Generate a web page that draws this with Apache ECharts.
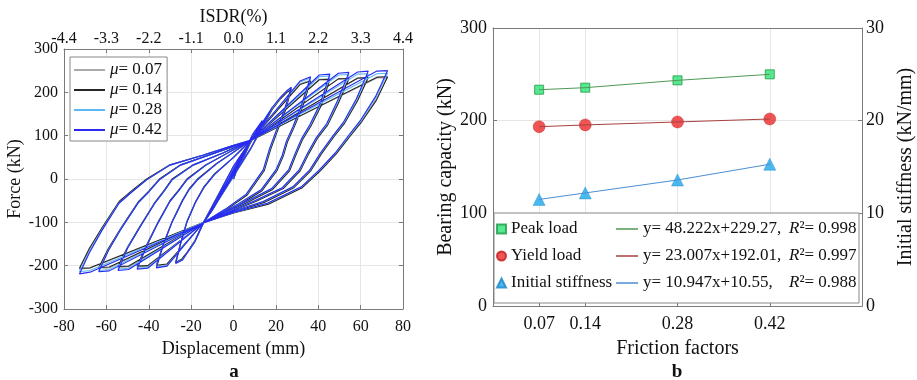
<!DOCTYPE html>
<html><head><meta charset="utf-8">
<script src="https://cdn.jsdelivr.net/npm/echarts@6/dist/echarts.min.js"></script>
<style>html,body{margin:0;padding:0;background:#fff}#c{width:917px;height:380px}</style>
</head><body><div id="c"></div>
<script>
// ---------- Panel a: hysteresis curves [displacement mm, force kN] ----------
const hys007 = [
[0,0],[4,53],[9.1,96],[5,53],[0,9],[-5,-25],[-9.1,-61],[-5,-21],[0,17],[5,61],
[9,101],[13.6,132],[9,93],[3,39],[-5,-31],[-10,-71],[-13.6,-96],[-9,-59],[-3,-5],[4,56],
[8.2,89],[13,121],[18.2,162],[14,123],[8,69],[0,7],[-8,-55],[-14.2,-101],[-18.2,-143],[-14,-99],[-8,-44],[0,29],[8.2,89],
[18.2,162],[22,186],[25,200],[27.3,209],[24.3,159],[20.3,109],[17.3,69],[14.3,20],[6.3,-36],[-3.8,-70],[-14.2,-101],[-18.2,-143],[-22,-171],[-24.3,-186],[-27.3,-193],[-25,-149],[-22,-99],[-18,-54],[-14,-19],[-9,11],[0,50],[8.2,89],
[31.4,220],[36.4,228],[32.3,167],[28.3,119],[25.3,87],[23.3,54],[20.3,20],[13.3,-26],[2.3,-59],[-14.2,-101],[-31.4,-198],[-36.4,-201],[-33,-149],[-29,-99],[-24,-49],[-21,-24],[-17,-1],[-8,35],[8.2,89],
[40.5,230],[45.5,231],[41.3,172],[36.3,123],[32.3,91],[29.3,57],[26.3,20],[18.3,-23],[6.3,-53],[-14.2,-101],[-40.5,-202],[-45.5,-203],[-41,-153],[-36,-104],[-30,-51],[-26,-27],[-22,-1],[-13,32],[-2,62],[8.2,89],
[49.5,231],[54.5,232],[49.3,177],[44.3,126],[39.3,94],[35.3,59],[31.3,20],[23.3,-21],[10.3,-51],[-14.2,-101],[-49.5,-203],[-54.5,-204],[-50,-158],[-44,-109],[-37,-54],[-33,-29],[-29,-1],[-19,32],[-5,60],[8.2,89],
[58.6,232],[63.6,233],[58.3,182],[52.3,130],[47.3,99],[41.3,59],[36.3,20],[28.3,-19],[14.3,-53],[0.3,-76],[-14.2,-101],[-58.6,-205],[-63.6,-206],[-59,-162],[-53,-113],[-45,-54],[-40,-29],[-35,-1],[-25,32],[-10,58],[8.2,89],
[67.7,233],[72.7,234],[67.3,184],[60.3,134],[55.3,103],[48.3,59],[40.8,20],[32.3,-19],[16.3,-57],[0.3,-77],[-14.2,-101],[-67.7,-206],[-72.7,-208],[-68,-163],[-62,-114],[-54,-54],[-48,-29],[-41,-1],[-30,32],[-14.5,55],[0,77],[8.2,89]
];
const hys014 = [
[0,0],[4,52],[9.1,95],[5,52],[0,8],[-5,-26],[-9.1,-60],[-5,-20],[0,16],[5,60],
[9,100],[13.6,130],[9,92],[3,38],[-5,-32],[-10,-72],[-13.6,-95],[-9,-58],[-3,-6],[4,55],
[8,88],[13,120],[18.2,160],[14,122],[8,68],[0,6],[-8,-56],[-14,-100],[-18.2,-142],[-14,-98],[-8,-44],[0,28],[8,88],
[18.2,160],[22,184],[25,199],[27.3,207],[24.5,158],[20.5,108],[17.5,68],[14.5,19],[6.5,-37],[-3.5,-71],[-14,-100],[-18.2,-142],[-22,-170],[-24.5,-185],[-27.3,-192],[-25,-148],[-22,-98],[-18,-53],[-14,-18],[-9,12],[0,50],[8,88],
[31.4,218],[36.4,226],[32.5,165],[28.5,118],[25.5,86],[23.5,53],[20.5,19],[13.5,-27],[2.5,-60],[-14,-100],[-31.4,-196],[-36.4,-199],[-33,-148],[-29,-98],[-24,-48],[-21,-23],[-17,0],[-8,36],[8,88],
[40.5,229],[45.5,230],[41.5,170],[36.5,122],[32.5,90],[29.5,56],[26.5,19],[18.5,-24],[6.5,-54],[-14,-100],[-40.5,-200],[-45.5,-201],[-41,-152],[-36,-103],[-30,-50],[-26,-26],[-22,0],[-13,33],[-2,62],[8,88],
[49.5,231],[54.5,232],[49.5,175],[44.5,125],[39.5,93],[35.5,58],[31.5,19],[23.5,-22],[10.5,-52],[-14,-100],[-49.5,-201],[-54.5,-202],[-50,-157],[-44,-108],[-37,-53],[-33,-28],[-29,0],[-19,33],[-5,60],[8,88],
[58.6,233],[63.6,234],[58.5,180],[52.5,129],[47.5,98],[41.5,58],[36.5,19],[28.5,-20],[14.5,-54],[0.5,-75],[-14,-100],[-58.6,-203],[-63.6,-204],[-59,-160],[-53,-112],[-45,-53],[-40,-28],[-35,0],[-25,33],[-10,58],[8,88],
[67.7,235],[72.7,236],[67.5,182],[60.5,132],[55.5,102],[48.5,58],[41,19],[32.5,-20],[16.5,-58],[0.5,-78],[-14,-100],[-67.7,-205],[-72.7,-206],[-68,-160],[-62,-112],[-54,-52],[-48,-27],[-41,0],[-30,33],[-14.5,55],[0,77],[8,88]
];
const hys028 = [
[0,0],[4,54],[9.1,97],[5,54],[0,9],[-5,-25],[-9.1,-61],[-5,-21],[0,17],[5,61],
[9,102],[13.6,134],[9,94],[3,39],[-5,-30],[-10,-71],[-13.6,-97],[-9,-59],[-3,-5],[4,57],
[8.3,90],[13,121],[18.2,163],[14,124],[8,69],[0,7],[-8,-55],[-14.4,-101],[-18.2,-144],[-14,-99],[-8,-45],[0,29],[8.3,90],
[18.2,163],[22,187],[25,202],[27.3,211],[24.2,160],[20.2,110],[17.2,70],[14.2,21],[6.2,-35],[-3.9,-70],[-14.4,-101],[-18.2,-144],[-22,-172],[-24.2,-187],[-27.3,-194],[-25,-150],[-22,-100],[-18,-55],[-14,-20],[-9,10],[0,50],[8.3,90],
[31.4,224],[36.4,233],[32.2,169],[28.2,120],[25.2,88],[23.2,55],[20.2,21],[13.2,-25],[2.2,-58],[-14.4,-101],[-31.4,-200],[-36.4,-203],[-33,-150],[-29,-100],[-24,-50],[-21,-25],[-17,-2],[-8,35],[8.3,90],
[40.5,236],[45.5,238],[41.2,174],[36.2,124],[32.2,92],[29.2,58],[26.2,21],[18.2,-22],[6.2,-52],[-14.4,-101],[-40.5,-204],[-45.5,-206],[-41,-154],[-36,-105],[-30,-52],[-26,-28],[-22,-2],[-13,32],[-2,62],[8.3,90],
[49.5,240],[54.5,241],[49.2,179],[44.2,127],[39.2,95],[35.2,60],[31.2,21],[23.2,-20],[10.2,-50],[-14.4,-101],[-49.5,-206],[-54.5,-208],[-50,-159],[-44,-110],[-37,-55],[-33,-30],[-29,-2],[-19,32],[-5,60],[8.3,90],
[58.6,242],[63.6,243],[58.2,184],[52.2,131],[47.2,100],[41.2,60],[36.2,21],[28.2,-18],[14.2,-52],[0.2,-74],[-14.4,-101],[-58.6,-209],[-63.6,-211],[-59,-164],[-53,-114],[-45,-55],[-40,-30],[-35,-2],[-25,32],[-10,58],[8.3,90],
[67.7,243],[72.7,244],[67.2,188],[60.2,135],[55.2,104],[48.2,60],[40.7,21],[32.2,-18],[16.2,-56],[0.2,-77],[-14.4,-101],[-67.7,-211],[-72.7,-214],[-68,-167],[-62,-116],[-54,-55],[-48,-30],[-41,-2],[-30,32],[-14.5,55],[0,78],[8.3,90]
];
const hys042 = [
[0,0],[4,55],[9.1,98],[5,55],[0,10],[-5,-25],[-9.1,-62],[-5,-22],[0,18],[5,62],
[9,103],[13.6,135],[9,95],[3,40],[-5,-30],[-10,-72],[-13.6,-98],[-9,-60],[-3,-5],[4,58],
[8.3,90],[13,122],[18.2,165],[14,125],[8,70],[0,8],[-8,-55],[-14.5,-102],[-18.2,-145],[-14,-100],[-8,-45],[0,30],[8.3,90],
[18.2,165],[22,188],[25,203],[27.3,212],[24,160],[20,110],[17,70],[14,21],[6,-35],[-4,-70],[-14.5,-102],[-18.2,-145],[-22,-172],[-24,-187],[-27.3,-195],[-25,-150],[-22,-100],[-18,-55],[-14,-20],[-9,10],[0,50],[8.3,90],
[31.4,226],[36.4,236],[32,170],[28,120],[25,88],[23,55],[20,21],[13,-25],[2,-58],[-14.5,-102],[-31.4,-201],[-36.4,-205],[-33,-150],[-29,-100],[-24,-50],[-21,-25],[-17,-2],[-8,35],[8.3,90],
[40.5,240],[45.5,242],[41,175],[36,125],[32,92],[29,58],[26,21],[18,-22],[6,-52],[-14.5,-102],[-40.5,-206],[-45.5,-208],[-41,-155],[-36,-105],[-30,-52],[-26,-28],[-22,-2],[-13,32],[-2,62],[8.3,90],
[49.5,244],[54.5,246],[49,180],[44,128],[39,95],[35,60],[31,21],[23,-20],[10,-50],[-14.5,-102],[-49.5,-209],[-54.5,-211],[-50,-160],[-44,-110],[-37,-55],[-33,-30],[-29,-2],[-19,32],[-5,60],[8.3,90],
[58.6,247],[63.6,249],[58,185],[52,132],[47,100],[41,60],[36,21],[28,-18],[14,-52],[0,-74],[-14.5,-102],[-58.6,-212],[-63.6,-214],[-59,-165],[-53,-115],[-45,-55],[-40,-30],[-35,-2],[-25,32],[-10,58],[8.3,90],
[67.7,249],[72.7,250],[67,190],[60,136],[55,105],[48,60],[40.5,21],[32,-18],[16,-56],[0,-77],[-14.5,-102],[-67.7,-215],[-72.7,-219],[-68,-170],[-62,-118],[-54,-56],[-48,-30],[-41,-2],[-30,32],[-14.5,55],[0,78],[8.3,90]
];
const muLabels = ['0.07', '0.14', '0.28', '0.42'];
const isdrTicks = [-4.4, -3.3, -2.2, -1.1, 0.0, 1.1, 2.2, 3.3, 4.4];

// ---------- Panel b ----------
const frictionFactors = [0.07, 0.14, 0.28, 0.42];
const peakLoad = [233.4, 235.6, 243.5, 250.0];
const yieldLoad = [193.5, 195.4, 198.6, 201.8];
const initialStiffness = [11.5, 12.2, 13.6, 15.3];
const markerNames = ['Peak load', 'Yield load', 'Initial stiffness'];
const fitEquations = ['y= 48.222x+229.27,', 'y= 23.007x+192.01,', 'y= 10.947x+10.55,'];
const r2Values = ['0.998', '0.997', '0.988'];

const FONT = 'Liberation Serif';
const AX = '#7a7a7a';
const GRIDC = '#e6e6e6';
const zip = (xs, ys) => xs.map((x, i) => [x, ys[i]]);

function baseAxis(extra) {
  return Object.assign({
    axisLine: { show: true, onZero: false, lineStyle: { color: AX, width: 1 } },
    axisTick: { show: true, inside: true, length: 4, lineStyle: { color: AX } },
    axisLabel: { color: '#111', fontFamily: FONT, fontSize: 16 },
    splitLine: { show: false },
    nameTextStyle: { color: '#111', fontFamily: FONT, fontSize: 18 }
  }, extra);
}

const chart = echarts.init(document.getElementById('c'), null, { renderer: 'canvas' });
const hysData = [hys007, hys014, hys028, hys042];
const hysColors = ['#a9a9a9', '#262626', '#5cb8f2', '#2a2af0'];

const option = {
  animation: false,
  backgroundColor: '#fff',
  textStyle: { fontFamily: FONT },
  grid: [
    { left: 64, right: 514, top: 49, bottom: 71, outerBoundsMode: 'none' },
    { left: 493, right: 55, top: 28, bottom: 74, outerBoundsMode: 'none' }
  ],
  xAxis: [
    baseAxis({ type: 'value', gridIndex: 0, min: -80, max: 80, interval: 20, position: 'bottom',
      name: 'Displacement (mm)', nameLocation: 'middle', nameGap: 30,
      axisLabel: { color: '#111', fontFamily: FONT, fontSize: 16, margin: 10 },
      splitLine: { show: true, lineStyle: { color: GRIDC, width: 1 } } }),
    baseAxis({ type: 'value', gridIndex: 0, min: -4.4, max: 4.4, interval: 1.1, position: 'top',
      name: 'ISDR(%)', nameLocation: 'middle', nameGap: 19,
      axisTick: { show: true, inside: true, length: 4, lineStyle: { color: AX }, customValues: isdrTicks },
      axisLabel: { color: '#111', fontFamily: FONT, fontSize: 16, margin: 2, customValues: isdrTicks,
        formatter: v => (Math.abs(v) < 1e-9 ? 0 : v).toFixed(1) } }),
    baseAxis({ type: 'value', gridIndex: 1, min: 0, max: 0.56, interval: 0.14, position: 'bottom',
      name: 'Friction factors', nameLocation: 'middle', nameGap: 33,
      nameTextStyle: { color: '#111', fontFamily: FONT, fontSize: 20 },
      axisTick: { show: true, inside: true, length: 4, lineStyle: { color: AX }, customValues: frictionFactors },
      axisLabel: { color: '#111', fontFamily: FONT, fontSize: 18, margin: 9, customValues: frictionFactors,
        formatter: v => v.toFixed(2) },
      splitLine: { show: true, lineStyle: { color: GRIDC, width: 1 } } }),
    baseAxis({ type: 'value', gridIndex: 1, min: 0, max: 0.56, interval: 0.14, position: 'top',
      axisTick: { show: false }, axisLabel: { show: false } })
  ],
  yAxis: [
    baseAxis({ type: 'value', gridIndex: 0, min: -300, max: 300, interval: 100, position: 'left',
      name: 'Force (kN)', nameLocation: 'middle', nameGap: 40,
      axisLabel: { color: '#111', fontFamily: FONT, fontSize: 16, margin: 6 },
      splitLine: { show: true, lineStyle: { color: GRIDC, width: 1 } } }),
    baseAxis({ type: 'value', gridIndex: 0, min: -300, max: 300, interval: 100, position: 'right',
      axisLabel: { show: false } }),
    baseAxis({ type: 'value', gridIndex: 1, min: 0, max: 300, interval: 100, position: 'left',
      name: 'Bearing capacity (kN)', nameLocation: 'middle', nameGap: 35,
      nameTextStyle: { color: '#111', fontFamily: FONT, fontSize: 20 },
      axisLabel: { color: '#111', fontFamily: FONT, fontSize: 18, margin: 6 },
      splitLine: { show: true, lineStyle: { color: GRIDC, width: 1 } } }),
    baseAxis({ type: 'value', gridIndex: 1, min: 0, max: 30, interval: 10, position: 'right',
      name: 'Initial stiffness (kN/mm)', nameLocation: 'middle', nameGap: 34,
      nameTextStyle: { color: '#111', fontFamily: FONT, fontSize: 20 },
      axisLabel: { color: '#111', fontFamily: FONT, fontSize: 18, margin: 4 } })
  ],
  legend: [
    { data: muLabels, orient: 'vertical', left: 70, top: 57, itemWidth: 31, itemHeight: 2, itemGap: 0,
      icon: 'rect', padding: [3, 5, 1, 4], backgroundColor: '#fff', borderColor: '#888', borderWidth: 1,
      textStyle: { fontFamily: FONT, fontSize: 17, color: '#111', lineHeight: 20,
        rich: { i: { fontFamily: FONT, fontSize: 17, fontStyle: 'italic', color: '#111', lineHeight: 20 } } },
      formatter: n => '{i|\u03bc}= ' + n, selectedMode: false, z: 20 },
    { data: markerNames, orient: 'vertical', left: 496, top: 219, itemWidth: 9, itemHeight: 9, itemGap: 7,
      padding: 0, textStyle: { fontFamily: FONT, fontSize: 17, color: '#111', lineHeight: 20 },
      selectedMode: false, z: 20 },
    { data: fitEquations, orient: 'vertical', left: 616, top: 219, itemWidth: 22, itemHeight: 1.5, itemGap: 7,
      icon: 'rect', padding: 0, selectedMode: false, z: 20,
      textStyle: { fontFamily: FONT, fontSize: 17, color: '#111', lineHeight: 20,
        rich: { a: { fontFamily: FONT, fontSize: 17, color: '#111', width: 146, lineHeight: 20 },
                r: { fontFamily: FONT, fontSize: 17, color: '#111', fontStyle: 'italic', lineHeight: 20 },
                b: { fontFamily: FONT, fontSize: 17, color: '#111', lineHeight: 20 } } },
      formatter: n => '{a|' + n + '}{r|R}{b|\u00b2= ' + r2Values[fitEquations.indexOf(n)] + '}' }
  ],
  graphic: [
    { type: 'rect', z: 15, shape: { x: 494, y: 213, width: 365, height: 90 },
      style: { fill: '#fff', stroke: '#888', lineWidth: 1 } },
    { type: 'text', x: 234, y: 372, style: { text: 'a', fontFamily: FONT, fontSize: 19, fontWeight: 'bold', fill: '#111', align: 'center', verticalAlign: 'middle' } },
    { type: 'text', x: 677, y: 372, style: { text: 'b', fontFamily: FONT, fontSize: 19, fontWeight: 'bold', fill: '#111', align: 'center', verticalAlign: 'middle' } }
  ],
  series: [
    ...hysData.map((d, i) => ({
      name: muLabels[i], type: 'line', xAxisIndex: 0, yAxisIndex: 0, data: d,
      showSymbol: false, symbol: 'none', silent: true,
      lineStyle: { color: hysColors[i], width: 1.1 }, itemStyle: { color: hysColors[i] }
    })),
    { name: fitEquations[0], type: 'line', xAxisIndex: 2, yAxisIndex: 2, data: zip(frictionFactors, peakLoad),
      symbol: 'none', lineStyle: { color: '#4f9a55', width: 1 }, itemStyle: { color: '#4f9a55' } },
    { name: fitEquations[1], type: 'line', xAxisIndex: 2, yAxisIndex: 2, data: zip(frictionFactors, yieldLoad),
      symbol: 'none', lineStyle: { color: '#a84040', width: 1 }, itemStyle: { color: '#a84040' } },
    { name: fitEquations[2], type: 'line', xAxisIndex: 2, yAxisIndex: 3, data: zip(frictionFactors, initialStiffness),
      symbol: 'none', lineStyle: { color: '#4a8fd2', width: 1 }, itemStyle: { color: '#4a8fd2' } },
    { name: markerNames[0], type: 'scatter', xAxisIndex: 2, yAxisIndex: 2, data: zip(frictionFactors, peakLoad),
      symbol: 'rect', symbolSize: 9, itemStyle: { color: '#2ee276', borderColor: '#1f9a45', borderWidth: 1 } },
    { name: markerNames[1], type: 'scatter', xAxisIndex: 2, yAxisIndex: 2, data: zip(frictionFactors, yieldLoad),
      symbol: 'circle', symbolSize: 12, itemStyle: { color: '#ec2a2a', borderColor: '#c01818', borderWidth: 0.5 } },
    { name: markerNames[2], type: 'scatter', xAxisIndex: 2, yAxisIndex: 3, data: zip(frictionFactors, initialStiffness),
      symbol: 'triangle', symbolSize: 12, itemStyle: { color: '#1ea6ea', borderColor: '#1a86c8', borderWidth: 0.5 } }
  ]
};
chart.setOption(option);
</script>
</body></html>
